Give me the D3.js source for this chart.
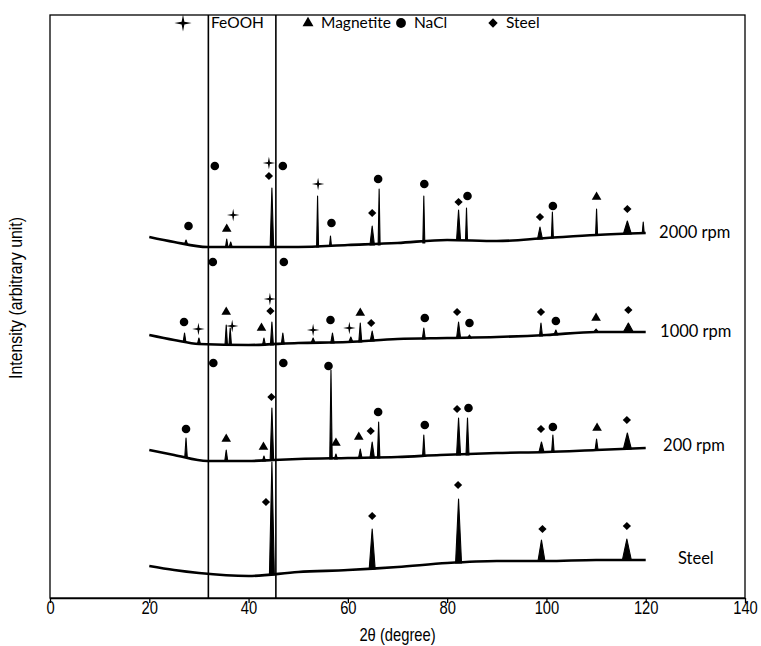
<!DOCTYPE html>
<html>
<head>
<meta charset="utf-8">
<script src="https://cdn.jsdelivr.net/npm/d3@7"></script>
<style>
  body { margin: 0; background: #fff; }
  svg { display: block; }
</style>
</head>
<body>
<svg id="root"></svg>
<script>
// 2theta / intensity (arbitrary unit)
const xTicks = [0, 20, 40, 60, 80, 100, 120, 140];
const refLines = [31.9, 45.5];

const legendItems = [
  { name: "FeOOH", type: "star" },
  { name: "Magnetite", type: "triangle" },
  { name: "NaCl", type: "circle" },
  { name: "Steel", type: "diamond" },
];

// baseline knots: [2theta, intensity]
const steelBase = [[20, 32], [25, 28], [30, 25], [40, 22], [50, 26], [60, 28], [70, 31], [80, 35], [90, 37], [100, 37], [110, 38], [120, 38]];
const rpm200Base = [[20, 148], [25, 143], [31.7, 137], [40, 137], [45, 138], [50, 139], [60, 140], [70, 141], [78.6, 143], [90, 145], [100, 146], [110, 148], [120, 150]];
const rpm1000Base = [[20, 263], [25, 258], [30, 254], [40, 253], [50, 255], [60, 256], [70, 259], [80, 260], [90, 261], [100, 263], [110, 266], [120, 266]];
const rpm2000Base = [[20, 361], [25, 356], [31.7, 351], [40, 351], [50, 351], [60, 353], [70, 355], [80, 358], [90, 357], [100, 360], [110, 363], [120, 365]];

// peaks: [centre, foot, top, half width]
const steelPeaks = [[44.7, 23, 136, 0.5], [64.9, 29, 69, 0.6], [82.3, 35, 99, 0.6], [99.0, 37, 58, 0.7], [116.2, 38, 59, 0.9]];
const rpm200Peaks = [
  [27.4, 141, 160, 0.25], [35.5, 137, 148, 0.3], [43.1, 137, 142, 0.3], [44.7, 138, 190, 0.35],
  [56.6, 139, 228, 0.25], [57.6, 139, 144, 0.3], [62.5, 140, 149, 0.35], [64.9, 140, 156, 0.45],
  [66.2, 140, 176, 0.25], [75.3, 142, 163, 0.25], [82.3, 143, 180, 0.4], [84.1, 143, 180, 0.3],
  [99.0, 146, 156, 0.5], [101.3, 146, 163, 0.25], [110.1, 148, 159, 0.3], [116.3, 149, 165, 0.8],
];
const rpm1000Peaks = [
  [27.1, 257, 265, 0.25], [30.0, 254, 260, 0.3], [35.5, 253, 273, 0.25], [36.3, 253, 270, 0.25],
  [43.1, 253, 260, 0.3], [44.7, 253, 276, 0.3], [46.9, 254, 265, 0.3], [53.0, 255, 260, 0.4],
  [56.9, 255, 265, 0.35], [60.6, 256, 261, 0.4], [62.5, 256, 275, 0.3], [64.9, 257, 267, 0.4],
  [75.3, 259, 270, 0.3], [82.3, 260, 276, 0.4], [84.5, 260, 263, 0.4], [98.9, 262, 275, 0.3],
  [101.9, 263, 268, 0.4], [110.0, 266, 269, 0.5], [116.5, 266, 275, 1.0],
];
const rpm2000Peaks = [
  [27.4, 354, 358, 0.3], [35.6, 351, 359, 0.25], [36.4, 351, 356, 0.3], [44.7, 351, 410, 0.35],
  [53.9, 351, 402, 0.2], [56.5, 352, 362, 0.2], [64.9, 353, 372, 0.45], [66.3, 353, 409, 0.2],
  [75.3, 355, 402, 0.2], [82.3, 358, 388, 0.4], [83.9, 358, 390, 0.2], [98.7, 359, 371, 0.5],
  [101.2, 360, 386, 0.2], [110.1, 363, 389, 0.2], [116.3, 364, 377, 0.8], [119.5, 365, 376, 0.2],
];

// phase markers: [2theta, intensity, phase]
const steelMarks = [[43.5, 96, "diamond"], [64.9, 82, "diamond"], [82.2, 113, "diamond"], [99.2, 69, "diamond"], [116.2, 72, "diamond"]];
const rpm200Marks = [
  [27.4, 169, "circle"], [32.9, 235, "circle"], [47.0, 235, "circle"], [35.5, 159, "triangle"],
  [43.0, 151, "triangle"], [44.6, 201, "diamond"], [56.1, 232, "circle"], [57.6, 155, "triangle"],
  [62.2, 161, "triangle"], [64.6, 167, "diamond"], [66.1, 186, "circle"], [75.5, 173, "circle"],
  [82.0, 189, "diamond"], [84.3, 190, "circle"], [98.9, 169, "diamond"], [101.3, 171, "circle"],
  [110.2, 170, "triangle"], [116.2, 178, "diamond"],
];
const rpm1000Marks = [
  [27.0, 276, "circle"], [29.9, 269, "star"], [32.8, 336, "circle"], [47.1, 336, "circle"],
  [35.5, 286, "triangle"], [36.7, 272, "star"], [42.6, 270, "triangle"], [44.4, 287, "diamond"],
  [44.3, 299, "star"], [53.0, 268, "star"], [56.5, 278, "circle"], [60.3, 270, "star"],
  [62.5, 285, "triangle"], [64.7, 275, "diamond"], [75.5, 280, "circle"], [82.0, 286, "diamond"],
  [84.5, 275, "circle"], [98.9, 286, "diamond"], [101.9, 277, "circle"], [110.0, 280, "triangle"],
  [116.5, 288, "diamond"],
];
const rpm2000Marks = [
  [27.9, 372, "circle"], [33.2, 432, "circle"], [46.9, 432, "circle"], [35.6, 369, "triangle"],
  [36.9, 383, "star"], [44.1, 422, "diamond"], [44.1, 435, "star"], [54.0, 414, "star"],
  [56.7, 375, "circle"], [64.9, 385, "diamond"], [66.1, 419, "circle"], [75.4, 414, "circle"],
  [82.3, 396, "diamond"], [84.1, 402, "circle"], [98.7, 381, "diamond"], [101.3, 392, "circle"],
  [110.1, 401, "triangle"], [116.3, 389, "diamond"],
];

const series = [
  { name: "Steel", base: steelBase, peaks: steelPeaks, marks: steelMarks, label: [126.5, 40] },
  { name: "200 rpm", base: rpm200Base, peaks: rpm200Peaks, marks: rpm200Marks, label: [123.5, 153] },
  { name: "1000 rpm", base: rpm1000Base, peaks: rpm1000Peaks, marks: rpm1000Marks, label: [122.9, 267] },
  { name: "2000 rpm", base: rpm2000Base, peaks: rpm2000Peaks, marks: rpm2000Marks, label: [122.7, 366] },
];

const draw = () => {
  const width = 761,
    height = 646;
  const left = 50,
    right = 745,
    top = 15,
    bottom = 598;

  // no Arial Narrow here: squeeze Liberation Sans instead
  const axisFont = "'Liberation Sans', Arial, sans-serif";
  const narrow = "scale(0.82,1)";
  const labelFont = "Lato, 'Open Sans', sans-serif";

  const x = d3.scaleLinear().domain([0, 140]).range([left, right]);
  const y = d3.scaleLinear().domain([0, 583]).range([bottom, top]);

  const svg = d3
    .select("svg#root")
    .attr("width", width)
    .attr("height", height)
    .attr("viewBox", [0, 0, width, height]);

  // four pointed star for FeOOH
  const symbolStar = {
    draw(context, size) {
      const r = Math.sqrt(size) * 0.9;
      const w = r * 0.16;
      context.moveTo(0, -r);
      context.lineTo(w, -w);
      context.lineTo(r, 0);
      context.lineTo(w, w);
      context.lineTo(0, r);
      context.lineTo(-w, w);
      context.lineTo(-r, 0);
      context.lineTo(-w, -w);
      context.closePath();
    },
  };
  const symbolDiamond = {
    draw(context, size) {
      const r = Math.sqrt(size / 2);
      context.moveTo(0, -r);
      context.lineTo(r, 0);
      context.lineTo(0, r);
      context.lineTo(-r, 0);
      context.closePath();
    },
  };
  const symbolPath = (type, k = 1) => {
    if (type === "star") return d3.symbol(symbolStar, 48 * k)();
    if (type === "triangle") return d3.symbol(d3.symbolTriangle, 40 * k)();
    if (type === "circle") return d3.symbol(d3.symbolCircle, 58 * k)();
    return d3.symbol(symbolDiamond, 34 * k)();
  };

  const baseLine = d3
    .line()
    .x((d) => x(d[0]))
    .y((d) => y(d[1]))
    .curve(d3.curveMonotoneX);

  // each peak as a solid spike on the baseline
  const peakShape = (p) =>
    d3.line()([
      [x(p[0] - p[3]), y(p[1])],
      [x(p[0]), y(p[2])],
      [x(p[0] + p[3]), y(p[1])],
    ]) + "Z";

  const trace = svg
    .selectAll("g.trace")
    .data(series)
    .join("g")
    .attr("class", "trace");

  trace
    .append("path")
    .attr("d", (d) => baseLine(d.base))
    .attr("fill", "none")
    .attr("stroke", "#000")
    .attr("stroke-width", 2.6)
    .attr("stroke-linejoin", "round");

  trace
    .selectAll("path.peak")
    .data((d) => d.peaks)
    .join("path")
    .attr("class", "peak")
    .attr("d", peakShape)
    .attr("fill", "#000")
    .attr("stroke", "#000")
    .attr("stroke-width", 1.1)
    .attr("stroke-linejoin", "round");

  trace
    .selectAll("path.mark")
    .data((d) => d.marks)
    .join("path")
    .attr("class", "mark")
    .attr("transform", (d) => `translate(${x(d[0])},${y(d[1])})`)
    .attr("d", (d) => symbolPath(d[2]))
    .attr("fill", "#000");

  trace
    .append("text")
    .attr("x", (d) => x(d.label[0]))
    .attr("y", (d) => y(d.label[1]))
    .attr("dy", "0.35em")
    .attr("font-family", labelFont)
    .attr("font-size", "16.5px")
    .attr("fill", "#000")
    .text((d) => d.name);

  // reference lines
  svg
    .selectAll("line.ref")
    .data(refLines)
    .join("line")
    .attr("class", "ref")
    .attr("x1", (d) => x(d))
    .attr("x2", (d) => x(d))
    .attr("y1", top)
    .attr("y2", bottom)
    .attr("stroke", "#000")
    .attr("stroke-width", 1.6);

  // frame
  svg
    .append("rect")
    .attr("x", left)
    .attr("y", top)
    .attr("width", right - left)
    .attr("height", bottom - top)
    .attr("fill", "none")
    .attr("stroke", "#000")
    .attr("stroke-width", 1.3);

  const xAxis = svg
    .append("g")
    .attr("transform", `translate(0,${bottom})`)
    .call(d3.axisBottom(x).tickValues(xTicks).tickSize(5).tickSizeOuter(0));
  xAxis.select(".domain").attr("stroke-width", 1.3);
  xAxis.selectAll(".tick line").attr("stroke-width", 1.3);
  xAxis
    .selectAll(".tick text")
    .attr("font-family", axisFont)
    .attr("font-size", "18px")
    .attr("fill", "#000")
    .attr("y", 3)
    .attr("transform", narrow);

  svg
    .append("text")
    .attr("transform", `translate(${(left + right) / 2},641) ${narrow}`)
    .attr("text-anchor", "middle")
    .attr("font-family", axisFont)
    .attr("font-size", "18px")
    .text("2θ (degree)");

  svg
    .append("text")
    .attr("transform", `translate(22,298) rotate(-90) scale(0.88,1)`)
    .attr("text-anchor", "middle")
    .attr("font-family", axisFont)
    .attr("font-size", "18px")
    .text("Intensity (arbitrary unit)");

  // legend
  const legendX = [183, 308, 401, 493];
  const legendK = { star: 1.9, triangle: 1.3, circle: 1.3, diamond: 1.3 };
  const legend = svg
    .selectAll("g.legend")
    .data(legendItems)
    .join("g")
    .attr("class", "legend")
    .attr("transform", (d, i) => `translate(${legendX[i]},23)`);

  legend
    .append("path")
    .attr("d", (d) => symbolPath(d.type, legendK[d.type]))
    .attr("fill", "#000");

  legend
    .append("text")
    .attr("x", (d) => (d.type === "star" ? 28 : 13))
    .attr("dy", "0.35em")
    .attr("font-family", labelFont)
    .attr("font-size", "15.5px")
    .text((d) => d.name);

  return svg.node();
};

draw();
</script>
</body>
</html>
